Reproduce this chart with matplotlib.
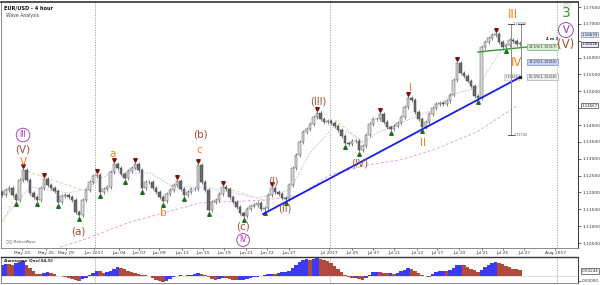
import matplotlib
matplotlib.use("Agg")
import matplotlib.pyplot as plt
import matplotlib.transforms as mtransforms
import numpy as np

# ---------------- data ----------------
closes = [
    1.11924, 1.12073, 1.12132, 1.11924, 1.11776, 1.12369, 1.12666, 1.12369, 1.11984, 1.11865,
    1.11776, 1.12132, 1.12399, 1.12221, 1.12132, 1.12043, 1.11717, 1.11895, 1.11924, 1.11865,
    1.11776, 1.11420, 1.11331, 1.11776, 1.12073, 1.12310, 1.12488, 1.12517, 1.12013, 1.12102,
    1.12162, 1.12606, 1.12844, 1.12725, 1.12547, 1.12429, 1.12636, 1.12725, 1.12844, 1.12666,
    1.12132, 1.12310, 1.12310, 1.12132, 1.12013, 1.11865, 1.11746, 1.11954, 1.12073, 1.12221,
    1.12340, 1.12102, 1.11924, 1.12013, 1.12102, 1.12102, 1.12814, 1.12310, 1.12073, 1.11479,
    1.11717, 1.11776, 1.11954, 1.12162, 1.12102, 1.11865, 1.11717, 1.11568, 1.11390, 1.11301,
    1.11509, 1.11598, 1.11628, 1.11687, 1.11509, 1.11539, 1.11924, 1.12132, 1.12013, 1.11954,
    1.11835, 1.11806, 1.12221, 1.12725, 1.13111, 1.13496, 1.13793, 1.13882, 1.14030, 1.14238,
    1.14356, 1.14178, 1.14089, 1.14119, 1.14060, 1.13971, 1.13852, 1.13674, 1.13467, 1.13437,
    1.13526, 1.13526, 1.13259, 1.13378, 1.13704, 1.14030, 1.14178, 1.14178, 1.14327, 1.14089,
    1.13941, 1.13882, 1.13971, 1.14060, 1.14238, 1.14534, 1.14801, 1.14742, 1.14386, 1.14178,
    1.13941, 1.14089, 1.14327, 1.14505, 1.14623, 1.14653, 1.14623, 1.14712, 1.14890, 1.15335,
    1.15839, 1.15543, 1.15454, 1.15306, 1.15157, 1.14861, 1.14801, 1.16314, 1.16462, 1.16581,
    1.16670, 1.16700, 1.16462, 1.16314, 1.16373, 1.16522, 1.16492, 1.16403, 1.16433,
]
first_open = 1.12000

ao_values = [
    0.00550, 0.00600, 0.00575, 0.00550, 0.00650, 0.00700, 0.00725, 0.00550, 0.00400, 0.00250,
    0.00100, 0.00075, 0.00150, 0.00200, 0.00125, 0.00075, 0.00000, -0.00025, -0.00050, -0.00100,
    -0.00150, -0.00225, -0.00250, -0.00175, -0.00100, 0.00025, 0.00150, 0.00250, 0.00225, 0.00150,
    0.00175, 0.00250, 0.00350, 0.00425, 0.00400, 0.00325, 0.00250, 0.00200, 0.00125, 0.00100,
    0.00050, 0.00025, -0.00025, -0.00100, -0.00200, -0.00275, -0.00300, -0.00250, -0.00150, -0.00050,
    0.00000, 0.00025, -0.00025, 0.00025, 0.00050, 0.00075, 0.00125, 0.00100, 0.00050, -0.00075,
    -0.00175, -0.00225, -0.00175, -0.00100, -0.00125, -0.00175, -0.00200, -0.00225, -0.00225, -0.00200,
    -0.00150, -0.00100, -0.00075, -0.00050, -0.00025, 0.00025, 0.00075, 0.00100, 0.00075, 0.00125,
    0.00175, 0.00200, 0.00250, 0.00400, 0.00550, 0.00700, 0.00800, 0.00825, 0.00800, 0.00850,
    0.00875, 0.00850, 0.00800, 0.00725, 0.00650, 0.00500, 0.00350, 0.00200, 0.00050, -0.00075,
    -0.00125, -0.00100, -0.00175, -0.00200, -0.00125, 0.00050, 0.00175, 0.00200, 0.00175, 0.00150,
    0.00125, 0.00125, 0.00100, 0.00150, 0.00225, 0.00300, 0.00375, 0.00350, 0.00250, 0.00150,
    0.00050, -0.00025, -0.00050, 0.00075, 0.00175, 0.00225, 0.00250, 0.00225, 0.00275, 0.00400,
    0.00525, 0.00550, 0.00525, 0.00450, 0.00350, 0.00275, 0.00200, 0.00275, 0.00425, 0.00550,
    0.00625, 0.00675, 0.00650, 0.00600, 0.00500, 0.00425, 0.00350, 0.00325, 0.00275,
]

# moving averages (bar index, price)
fast_ma_x = [-0.6, 8, 18.6, 23.1, 30.9, 42.3, 48.9, 56.6, 62.3, 72.9, 82.3, 88, 94.6, 99.4,
             103.1, 107.1, 113.7, 123.1, 128, 135.7, 142.3, 147.1]
fast_ma_y = [1.11094, 1.12162, 1.11984, 1.12073, 1.12577, 1.12577, 1.12162, 1.12162, 1.12073,
             1.11835, 1.12073, 1.13170, 1.13941, 1.13763, 1.13467, 1.13763, 1.14060, 1.14445,
             1.14890, 1.15098, 1.16166, 1.16373]
slow_ma_x = [16.6, 23.1, 36.6, 56.6, 75.7, 85.1, 93.7, 104.3, 113.7, 123.1, 135.7, 147.1]
slow_ma_y = [1.10380, 1.10590, 1.11123, 1.11687, 1.11776, 1.11924, 1.12518, 1.12814, 1.12963,
             1.13259, 1.13793, 1.14567]

# pivot markers (bar indices)
pivot_highs = [6, 12, 27, 32, 38, 50, 56, 63, 77, 90, 108, 116, 130, 141]
pivot_lows = [4, 10, 16, 22, 28, 35, 40, 46, 52, 59, 69, 75, 81, 98, 102, 111, 120, 136, 144]

# trend line & channel lines
trend_x = [74.6, 148.0]
trend_y = [1.11361, 1.15416]
green_x = [136.0, 150.3]
green_y = [1.16166, 1.16317]
wave_lines = [
    ((0.3, 6.0), (1.11124, 1.12428), '#f5d58a'),
    ((6.0, 22.9), (1.12666, 1.12073), '#f8c9a0'),
    ((63.1, 74.6), (1.12162, 1.11776), '#f8c9a0'),
    ((95.1, 104.3), (1.14149, 1.13407), '#f8c9a0'),
]

date_labels = ["May 23", "May 25", "May 29", "Jun 2017", "Jun 04", "Jun 07", "Jun 09", "Jun 13",
               "Jun 15", "Jun 19", "Jun 21", "Jun 23", "Jun 27", "Jul 2017", "Jul 05", "Jul 07",
               "Jul 11", "Jul 13", "Jul 17", "Jul 19", "Jul 21", "Jul 25", "Jul 27", "Aug 2017"]
date_pos = [5.6, 12.6, 18.2, 26.3, 33.4, 39.1, 44.9, 51.4, 57.4, 63.4, 69.7, 75.7, 82.0,
            93.4, 100.0, 106.0, 112.0, 118.6, 124.3, 130.6, 137.1, 143.1, 149.1, 158.0]
month_sep = [26.6, 93.7, 158.6]

price_ticks = [1.105, 1.110, 1.115, 1.120, 1.125, 1.130, 1.135, 1.140, 1.145, 1.150,
               1.155, 1.160, 1.165, 1.170, 1.175]
hidden_ticks = [1.145, 1.165]

# ---------------- figure ----------------
plt.rcParams['font.family'] = ['DejaVu Sans']
fig = plt.figure(figsize=(6, 2.85), dpi=100)
fig.patch.set_facecolor('white')
ax = fig.add_axes([1/600, 37/285, 577/600, 246/285])
ax2 = fig.add_axes([1/600, 2/285, 577/600, 26/285])

n = len(closes)
idx = np.arange(n)
opens = np.array([first_open] + closes[:-1])
cl = np.array(closes)
top = np.maximum(opens, cl)
bot = np.minimum(opens, cl)
wick = 0.0006

XL = (-0.29, 164.57)
ax.set_xlim(*XL)
ax.set_ylim(1.10352, 1.17649)

# separators
for m in month_sep:
    ax.axvline(m, color='#999999', lw=0.6, ls=(0, (1.5, 1.5)), zorder=0)
    ax2.axvline(m, color='#999999', lw=0.6, ls=(0, (1.5, 1.5)), zorder=0)

# moving averages
ax.plot(slow_ma_x, slow_ma_y, color='#e4a6e0', lw=0.7, ls=(0, (3, 2)), zorder=1)
ax.plot(fast_ma_x, fast_ma_y, color='#a9c4f0', lw=0.7, ls=(0, (1.5, 1.5)), zorder=1)
for xs, ys, c in wave_lines:
    ax.plot(xs, ys, color=c, lw=0.7, ls=(0, (3, 2)), zorder=1)

# candles
ax.vlines(idx, bot - wick, top + wick, color='#444444', lw=0.45, zorder=2)
up = cl >= opens
ax.bar(idx[up], (top - bot)[up] + 0.00005, bottom=bot[up], width=0.62,
       color='#d8d8d8', edgecolor='#555555', lw=0.35, zorder=3)
ax.bar(idx[~up], (top - bot)[~up] + 0.00005, bottom=bot[~up], width=0.62,
       color='#6a6a6a', edgecolor='#444444', lw=0.35, zorder=3)

# pivots
ax.plot(pivot_highs, top[pivot_highs] + wick + 0.0007, marker='v', ls='none',
        ms=2.6, color='#7a1010', zorder=4)
ax.plot(pivot_lows, bot[pivot_lows] - wick - 0.0007, marker='^', ls='none',
        ms=2.6, color='#1f6e1f', zorder=4)

# trend line, green line
ax.plot(trend_x, trend_y, color='#1a1aee', lw=1.3, zorder=5)
ax.plot(green_x, green_y, color='#2e9a2e', lw=1.0, zorder=5)
ax.plot([148.0], [1.15416], marker='s', ms=1.8, color='#222244', zorder=6)

# measurement lines
ax.plot([145.4, 145.4], [1.17004, 1.13704], color='#8c8c8c', lw=0.7, zorder=5)
ax.plot([148.3, 148.3], [1.17004, 1.15416], color='#8c8c8c', lw=0.7, zorder=5)
for xx in (145.4, 148.3):
    ax.plot([xx - 0.9, xx + 0.9], [1.17004, 1.17004], color='#555555', lw=0.7, zorder=5)
ax.plot([144.5, 146.3], [1.13704, 1.13704], color='#555555', lw=0.7, zorder=5)
ax.text(146.0, 1.17004, '1.17004', fontsize=2.4, va='center', ha='left', color='#555555')
ax.text(146.3, 1.13704, '1.13704', fontsize=2.4, va='center', ha='left', color='#555555')
ax.text(147.6, 1.15416, '1.15416', fontsize=2.4, va='center', ha='right', color='#555555',
        bbox=dict(boxstyle='square,pad=0.25', fc='#f2f2f2', ec='#bbbbbb', lw=0.4))

# fib boxes
fibs = [('23.6%(1.16317)', 1.16317, '#dff0d8', '#5a9a4a'),
        ('38.2%(1.15910)', 1.15866, '#c9d2f0', '#6a78b8'),
        ('50.0%(1.15416)', 1.15416, '#eeeeee', '#999999')]
for t, yv, fc, ec in fibs:
    ax.text(150.4, yv, t, fontsize=2.5, va='center', ha='left', color='#333333',
            bbox=dict(boxstyle='square,pad=0.3', fc=fc, ec=ec, lw=0.4), zorder=7)
ax.text(155.5, 1.16540, '4 m 3', fontsize=2.8, fontweight='bold', ha='left', va='center',
        color='#222222')

# wave labels
OR, BR, PU, GR = '#ff7f1e', '#a0522d', '#9b30b0', '#2a9a2a'
labels = [
    ('(V)', 6, 1.13259, BR, 7.5), ('V', 6, 1.12903, OR, 7.5),
    ('(a)', 21.7, 1.10827, BR, 7.5), ('a', 31.7, 1.13140, OR, 7.5),
    ('b', 46, 1.11390, OR, 7.5), ('(b)', 56.6, 1.13704, BR, 7.5),
    ('c', 56.3, 1.13259, OR, 7.5), ('(c)', 68.9, 1.10975, BR, 7.5),
    ('(I)', 77.4, 1.12339, BR, 7.0), ('(II)', 80.9, 1.11509, BR, 7.0),
    ('(III)', 90.3, 1.14712, BR, 7.0), ('(IV)', 102.3, 1.12873, BR, 7.0),
    ('I', 116.6, 1.15098, OR, 7.5), ('II', 120.3, 1.13467, OR, 7.5),
    ('III', 146.0, 1.17293, OR, 8.5), ('IV', 147.1, 1.15869, OR, 8.5),
    ('3', 161.1, 1.17322, GR, 10), ('(V)', 161.1, 1.16403, BR, 8.5),
]
for t, xv, yv, c, fs in labels:
    ax.text(xv, yv, t, color=c, fontsize=fs, ha='center', va='center', zorder=8)
for t, xv, yv, fs, pad in [('III', 6, 1.13704, 5.5, 0.3), ('IV', 68.9, 1.10590, 5.5, 0.25),
                           ('V', 161.1, 1.16818, 7.0, 0.25)]:
    ax.text(xv, yv, t, color=PU, fontsize=fs, ha='center', va='center', zorder=8,
            bbox=dict(boxstyle='circle,pad=%s' % pad, fc='white', ec=PU, lw=0.6))

# titles
ax.text(0.006, 0.985, 'EUR/USD - 4 hour', transform=ax.transAxes, fontsize=3.6,
        fontweight='bold', va='top', ha='left', color='#111111')
ax.text(0.008, 0.955, 'Wave Analysis', transform=ax.transAxes, fontsize=3.3,
        va='top', ha='left', color='#444444')
ax.text(0.008, 0.02, '\u25cb\u25cb MotiveWave', transform=ax.transAxes, fontsize=2.6,
        va='bottom', ha='left', color='#555555')
ax.text(0.982, 0.995, '\u25cb\u25cb\u25cb', transform=ax.transAxes, fontsize=2.6,
        va='top', ha='center', color='#aaaaaa')

# axes style main
ax.yaxis.tick_right()
ax.set_yticks(price_ticks)
ax.set_yticklabels(['' if v in hidden_ticks else '%.5f' % v for v in price_ticks])
ax.tick_params(axis='y', labelsize=3.2, length=2, width=0.5, pad=1, colors='#333333')
ax.set_xticks(date_pos)
ax.set_xticklabels(date_labels)
ax.tick_params(axis='x', labelsize=3.2, length=1.5, width=0.5, pad=1, colors='#333333')
for s in ['left', 'bottom']:
    ax.spines[s].set_color('#777777')
    ax.spines[s].set_linewidth(0.6)
ax.spines['right'].set_color('#333333')
ax.spines['right'].set_linewidth(0.7)
ax.spines['top'].set_color('#333333')
ax.spines['top'].set_linewidth(1.2)

# right price boxes
tr = mtransforms.blended_transform_factory(ax.transAxes, ax.transData)
for t, yv, fc, ec in [('1.16633', 1.16680, '#dbe6f7', '#7d8fb5'),
                      ('1.16426', 1.16390, '#e8e8f0', '#2a2a55'),
                      ('1.14567', 1.14567, '#ffffff', '#444444')]:
    ax.text(1.006, yv, t, transform=tr, fontsize=2.9, va='center', ha='left', color='#222222',
            bbox=dict(boxstyle='square,pad=0.12', fc=fc, ec=ec, lw=0.5), clip_on=False, zorder=9)

# AO panel
ao = np.array(ao_values)
prev = np.concatenate([[ao[0]], ao[:-1]])
colors = np.where(ao >= prev, '#3b3bf5', '#b04a3a')
ax2.bar(idx, ao, width=0.95, color=colors, lw=0, zorder=2)
ax2.axhline(0, color='#aaaaaa', lw=0.5, ls=(0, (1, 1)), zorder=1)
ax2.set_xlim(*XL)
ax2.set_ylim(-0.00365, 0.00935)
ax2.set_xticks([])
ax2.yaxis.tick_right()
ax2.set_yticks([-0.00250])
ax2.set_yticklabels(['0.00000'])
ax2.tick_params(axis='y', labelsize=3.0, length=2, width=0.5, pad=1, colors='#333333')
for s in ['left', 'bottom']:
    ax2.spines[s].set_color('#777777')
    ax2.spines[s].set_linewidth(0.6)
ax2.spines['right'].set_color('#333333')
ax2.spines['right'].set_linewidth(0.7)
ax2.spines['top'].set_color('#333333')
ax2.spines['top'].set_linewidth(1.0)
ax2.text(0.006, 0.93, 'Awesome Osc(34,5)', transform=ax2.transAxes, fontsize=3.2,
         fontweight='bold', va='top', ha='left', color='#222222')
tr2 = mtransforms.blended_transform_factory(ax2.transAxes, ax2.transData)
ax2.text(1.006, 0.00244, '0.00244', transform=tr2, fontsize=3.0, va='center', ha='left',
         color='#222222', bbox=dict(boxstyle='square,pad=0.2', fc='white', ec='#444444', lw=0.5),
         clip_on=False)

fig.savefig('out.png', dpi=100, facecolor='white')
